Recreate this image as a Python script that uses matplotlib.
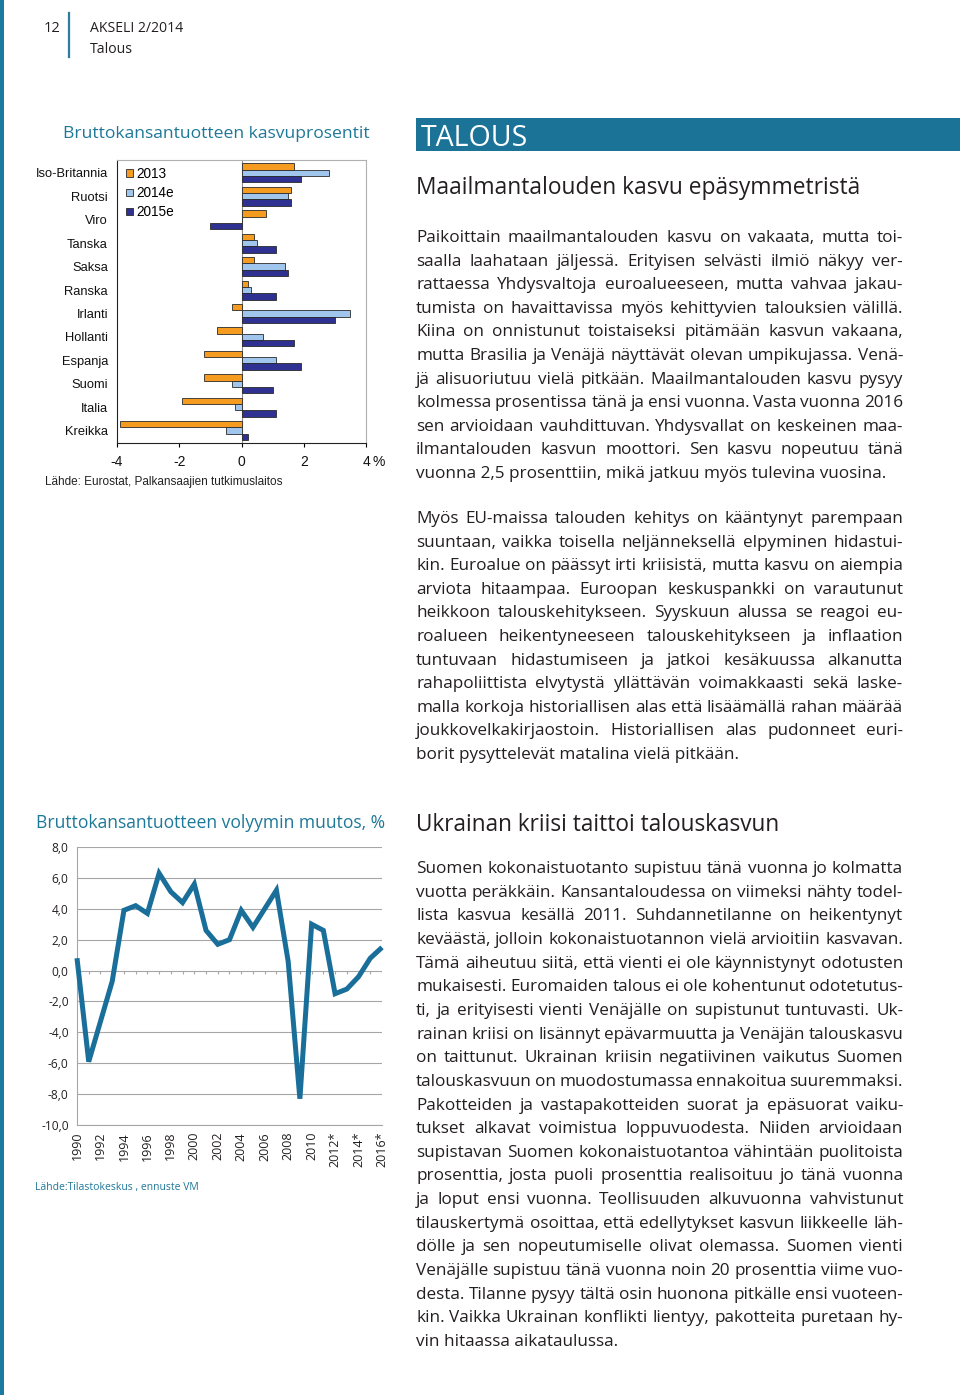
import numpy as np
import matplotlib
matplotlib.use("Agg")
import matplotlib.pyplot as plt
from matplotlib.font_manager import FontProperties
from matplotlib.patches import Rectangle

# --- data: Bruttokansantuotteen kasvuprosentit ---
countries = ["Iso-Britannia", "Ruotsi", "Viro", "Tanska", "Saksa", "Ranska",
             "Irlanti", "Hollanti", "Espanja", "Suomi", "Italia", "Kreikka"]
growth_2013 = [1.7, 1.6, 0.8, 0.4, 0.4, 0.2, -0.3, -0.8, -1.2, -1.2, -1.9, -3.9]
growth_2014e = [2.8, 1.5, 0.0, 0.5, 1.4, 0.3, 3.5, 0.7, 1.1, -0.3, -0.2, -0.5]
growth_2015e = [1.9, 1.6, -1.0, 1.1, 1.5, 1.1, 3.0, 1.7, 1.9, 1.0, 1.1, 0.2]
bar_series = ["2013", "2014e", "2015e"]
bar_ticks = [-4, -2, 0, 2, 4]

# --- data: Bruttokansantuotteen volyymin muutos, % ---
years = list(range(1990, 2017))
gdp_change = [0.8, -5.9, -3.3, -0.7, 3.9, 4.2, 3.7, 6.3, 5.1, 4.4, 5.6, 2.6, 1.7,
              2.0, 3.9, 2.8, 4.0, 5.2, 0.6, -8.3, 3.0, 2.6, -1.5, -1.2, -0.4, 0.8, 1.5]
year_labels = ["1990", "1992", "1994", "1996", "1998", "2000", "2002", "2004",
               "2006", "2008", "2010", "2012*", "2014*", "2016*"]
line_yticks = [-10, -8, -6, -4, -2, 0, 2, 4, 6, 8]

# --- article text ---
para1 = [
    "Paikoittain maailmantalouden kasvu on vakaata, mutta toi-",
    "saalla laahataan jäljessä. Erityisen selvästi ilmiö näkyy ver-",
    "rattaessa Yhdysvaltoja euroalueeseen, mutta vahvaa jakau-",
    "tumista on havaittavissa myös kehittyvien talouksien välillä.",
    "Kiina on onnistunut toistaiseksi pitämään kasvun vakaana,",
    "mutta Brasilia ja Venäjä näyttävät olevan umpikujassa. Venä-",
    "jä alisuoriutuu vielä pitkään. Maailmantalouden kasvu pysyy",
    "kolmessa prosentissa tänä ja ensi vuonna. Vasta vuonna 2016",
    "sen arvioidaan vauhdittuvan. Yhdysvallat on keskeinen maa-",
    "ilmantalouden kasvun moottori. Sen kasvu nopeutuu tänä",
    "vuonna 2,5 prosenttiin, mikä jatkuu myös tulevina vuosina.",
]
para2 = [
    "Myös EU-maissa talouden kehitys on kääntynyt parempaan",
    "suuntaan, vaikka toisella neljänneksellä elpyminen hidastui-",
    "kin. Euroalue on päässyt irti kriisistä, mutta kasvu on aiempia",
    "arviota hitaampaa. Euroopan keskuspankki on varautunut",
    "heikkoon talouskehitykseen. Syyskuun alussa se reagoi eu-",
    "roalueen heikentyneeseen talouskehitykseen ja inflaation",
    "tuntuvaan hidastumiseen ja jatkoi kesäkuussa alkanutta",
    "rahapoliittista elvytystä yllättävän voimakkaasti sekä laske-",
    "malla korkoja historiallisen alas että lisäämällä rahan määrää",
    "joukkovelkakirjaostoin. Historiallisen alas pudonneet euri-",
    "borit pysyttelevät matalina vielä pitkään.",
]
para3 = [
    "Suomen kokonaistuotanto supistuu tänä vuonna jo kolmatta",
    "vuotta peräkkäin. Kansantaloudessa on viimeksi nähty todel-",
    "lista kasvua kesällä 2011. Suhdannetilanne on heikentynyt",
    "keväästä, jolloin kokonaistuotannon vielä arvioitiin kasvavan.",
    "Tämä aiheutuu siitä, että vienti ei ole käynnistynyt odotusten",
    "mukaisesti. Euromaiden talous ei ole kohentunut odotetutus-",
    "ti, ja erityisesti vienti Venäjälle on supistunut tuntuvasti. Uk-",
    "rainan kriisi on lisännyt epävarmuutta ja Venäjän talouskasvu",
    "on taittunut. Ukrainan kriisin negatiivinen vaikutus Suomen",
    "talouskasvuun on muodostumassa ennakoitua suuremmaksi.",
    "Pakotteiden ja vastapakotteiden suorat ja epäsuorat vaiku-",
    "tukset alkavat voimistua loppuvuodesta. Niiden arvioidaan",
    "supistavan Suomen kokonaistuotantoa vähintään puolitoista",
    "prosenttia, josta puoli prosenttia realisoituu jo tänä vuonna",
    "ja loput ensi vuonna. Teollisuuden alkuvuonna vahvistunut",
    "tilauskertymä osoittaa, että edellytykset kasvun liikkeelle läh-",
    "dölle ja sen nopeutumiselle olivat olemassa. Suomen vienti",
    "Venäjälle supistuu tänä vuonna noin 20 prosenttia viime vuo-",
    "desta. Tilanne pysyy tältä osin huonona pitkälle ensi vuoteen-",
    "kin. Vaikka Ukrainan konflikti lientyy, pakotteita puretaan hy-",
    "vin hitaassa aikataulussa.",
]

BODY = "Open Sans"
NARROW = ["Liberation Sans Narrow", "Liberation Sans"]
TEAL = "#1e7898"
INK = "#231f20"
W, H = 960, 1395

fig = plt.figure(figsize=(W / 100, H / 100), dpi=100)
fig.patch.set_facecolor("white")
page = fig.add_axes([0, 0, 1, 1])
page.set_xlim(0, W)
page.set_ylim(H, 0)
page.axis("off")
renderer = fig.canvas.get_renderer()


def text_width(s, size, family=BODY):
    prop = FontProperties(family=family, size=size)
    w, h, d = renderer.get_text_width_height_descent(s, prop, ismath=False)
    return w


def fit_size(s, width, family=BODY):
    return 10 * width / text_width(s, 10, family)


def px_rect(x0, y0, x1, y1):
    return [x0 / W, 1 - y1 / H, (x1 - x0) / W, (y1 - y0) / H]


def justified(lines, x0, width, y0, step, size):
    for i, line in enumerate(lines):
        y = y0 + i * step
        words = line.split()
        if i == len(lines) - 1 or len(words) < 2:
            page.text(x0, y, line, fontsize=size, family=BODY, color=INK, va="baseline")
            continue
        widths = [text_width(w, size) for w in words]
        gap = (width - sum(widths)) / (len(words) - 1)
        x = x0
        for w, wd in zip(words, widths):
            page.text(x, y, w, fontsize=size, family=BODY, color=INK, va="baseline")
            x += wd + gap


# page furniture
page.add_patch(Rectangle((0, 0), 4, H, color="#1b7aa1", lw=0))
page.plot([69, 69], [13, 57], color="#2b7f9c", lw=1.6)
page.text(60, 32, "12", fontsize=10.5, family=BODY, color=INK, ha="right", va="baseline")
hs = fit_size("AKSELI 2/2014", 93)
page.text(90, 32, "AKSELI 2/2014", fontsize=hs, family=BODY, color=INK, va="baseline")
page.text(90, 53, "Talous", fontsize=hs, family=BODY, color=INK, va="baseline")

page.add_patch(Rectangle((416, 118), W - 416, 32.5, color="#1b7398", lw=0))
page.text(421, 146, "TALOUS", fontsize=fit_size("TALOUS", 107), family=BODY,
          color="white", va="baseline")

h1 = "Maailmantalouden kasvu epäsymmetristä"
h2 = "Ukrainan kriisi taittoi talouskasvun"
page.text(416, 194, h1, fontsize=fit_size(h1, 444), family=BODY, color=INK, va="baseline")
page.text(416, 831, h2, fontsize=fit_size(h2, 365), family=BODY, color=INK, va="baseline")

# body size: match the natural line length, but keep every justified line from overflowing
body_size = fit_size(para1[-1], 475)
for para in (para1, para2, para3):
    for line in para[:-1]:
        body_size = min(body_size, fit_size(line, 492))
justified(para1, 416, 487, 242, 23.6, body_size)
justified(para2, 416, 487, 523, 23.6, body_size)
justified(para3, 416, 487, 873, 23.65, body_size)

t1 = "Bruttokansantuotteen kasvuprosentit"
t2 = "Bruttokansantuotteen volyymin muutos, %"
page.text(63, 137.5, t1, fontsize=fit_size(t1, 306), family=BODY, color=TEAL, va="baseline")
page.text(36, 828.5, t2, fontsize=fit_size(t2, 351), family=BODY, color=TEAL, va="baseline")

s1 = "Lähde: Eurostat, Palkansaajien tutkimuslaitos"
page.text(45, 481.5, s1, fontsize=fit_size(s1, 237, NARROW), family=NARROW,
          color="#222222", va="center")
s2 = "Lähde:Tilastokeskus , ennuste VM"
page.text(35, 1190, s2, fontsize=fit_size(s2, 163), family=BODY, color=TEAL, va="baseline")

# --- bar chart ---
bar_font = 9.3
ax1 = fig.add_axes(px_rect(117, 160, 366, 443))
pos = np.arange(len(countries))
bh = 0.27
bar_colors = ["#f49b20", "#a0c6ee", "#2f3192"]
for k, (vals, col, lab) in enumerate(zip([growth_2013, growth_2014e, growth_2015e],
                                         bar_colors, bar_series)):
    ax1.barh(pos + (k - 1) * bh, vals, height=bh, color=col, edgecolor="#2a2a2a",
             linewidth=0.6, label=lab, zorder=3)
ax1.axvline(0, color="#8c8c8c", lw=0.8, zorder=1)
ax1.set_xlim(-4, 4)
ax1.set_ylim(11.53, -0.55)
ax1.set_yticks(pos)
ax1.set_yticklabels(countries, family=NARROW, fontsize=bar_font, color="#111111")
ax1.set_xticks(bar_ticks)
ax1.set_xticklabels([str(v) for v in bar_ticks], family=NARROW, fontsize=10,
                    color="#111111")
ax1.tick_params(axis="y", length=0, pad=6.5)
ax1.tick_params(axis="x", length=3, width=0.8, pad=6, direction="out")
for side in ("left", "bottom"):
    ax1.spines[side].set_color("#222222")
    ax1.spines[side].set_linewidth(0.8)
for side in ("top", "right"):
    ax1.spines[side].set_color("#b0b0b0")
    ax1.spines[side].set_linewidth(0.8)
ax1.annotate("%", xy=(1, 0), xycoords="axes fraction", xytext=(5, -13.5),
             textcoords="offset points", family=NARROW, fontsize=10,
             color="#111111", va="center", ha="left")
ax1.legend(loc="upper left", bbox_to_anchor=(0.035, 0.975), frameon=False,
           prop=FontProperties(family=NARROW, size=9.8), handlelength=0.5,
           handleheight=0.5, handletextpad=0.25, labelspacing=0.38,
           borderpad=0, borderaxespad=0)

# --- line chart ---
ax2 = fig.add_axes(px_rect(77, 847, 382, 1125))
ax2.plot(years, gdp_change, color="#1a6e9a", lw=3.6, zorder=3, clip_on=False,
         solid_joinstyle="miter", solid_capstyle="butt")
ax2.vlines(years, -0.2, 0, color="#a6a6a6", lw=0.8, zorder=2)
ax2.set_xlim(1990, 2016)
ax2.set_ylim(-10, 8)
ax2.set_yticks(line_yticks)
ax2.set_yticklabels([f"{v:.1f}".replace(".", ",") for v in line_yticks],
                    family=BODY, fontsize=8.6, color=INK)
ax2.yaxis.grid(True, color="#a6a6a6", lw=0.8, zorder=1)
ax2.set_xticks(years[::2])
ax2.set_xticklabels(year_labels, rotation=90, family=BODY, fontsize=9, color=INK,
                    ha="center", va="top")
ax2.tick_params(axis="x", length=0, pad=5)
ax2.tick_params(axis="y", length=0, pad=6)
for side in ("top", "right"):
    ax2.spines[side].set_visible(False)
for side in ("left", "bottom"):
    ax2.spines[side].set_color("#a6a6a6")
    ax2.spines[side].set_linewidth(0.8)

fig.savefig("out.png", dpi=100, facecolor="white")
